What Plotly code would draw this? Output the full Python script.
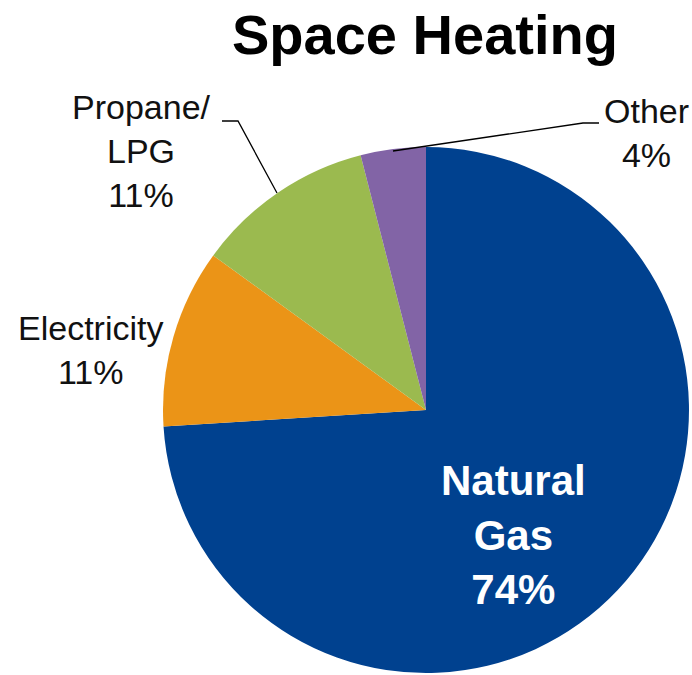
import plotly.graph_objects as go

labels = ["Natural Gas", "Electricity", "Propane/LPG", "Other"]
values = [74, 11, 11, 4]
colors = ["#00418f", "#eb9417", "#9bba4f", "#8264a6"]

W, H = 692, 675

def px(x):
    return x / W

def py(y):
    return 1 - y / H

fig = go.Figure(go.Pie(
    labels=labels,
    values=values,
    sort=False,
    direction="clockwise",
    rotation=0,
    marker=dict(colors=colors, line=dict(width=0)),
    textinfo="none",
    hoverinfo="label+percent",
    domain=dict(x=[px(163), px(689)], y=[py(673), py(147)]),
    showlegend=False,
))

font_family = "Arial, 'Liberation Sans', sans-serif"

annotations = [
    dict(text="<b>Space Heating</b>", x=px(425), y=py(35), font=dict(size=56, color="black")),
    dict(text="Electricity<br>%d%%" % values[1], x=px(90), y=py(350), font=dict(size=34, color="#111111")),
    dict(text="Propane/<br>LPG<br>%d%%" % values[2], x=px(141), y=py(151), font=dict(size=34, color="#111111")),
    dict(text="Other<br>%d%%" % values[3], x=px(646), y=py(133), font=dict(size=34, color="#111111")),
    dict(text="<b>Natural<br>Gas<br>%d%%</b>" % values[0], x=px(513), y=py(535), font=dict(size=42, color="white")),
]
for a in annotations:
    a.update(xref="paper", yref="paper", showarrow=False, xanchor="center", yanchor="middle")
    a["font"]["family"] = font_family

shapes = [
    dict(type="path", path="M %f %f L %f %f L %f %f" % (px(222), py(121), px(238), py(121), px(277), py(193)),
         xref="paper", yref="paper", line=dict(color="black", width=1.3)),
    dict(type="path", path="M %f %f L %f %f L %f %f" % (px(599), py(123), px(583), py(123), px(393), py(151)),
         xref="paper", yref="paper", line=dict(color="black", width=1.3)),
]

fig.update_layout(
    width=W, height=H,
    margin=dict(l=0, r=0, t=0, b=0),
    paper_bgcolor="white",
    plot_bgcolor="white",
    annotations=annotations,
    shapes=shapes,
)

fig.write_html("out.html", config={"displayModeBar": False},
               post_script="document.body.style.margin='0';")
